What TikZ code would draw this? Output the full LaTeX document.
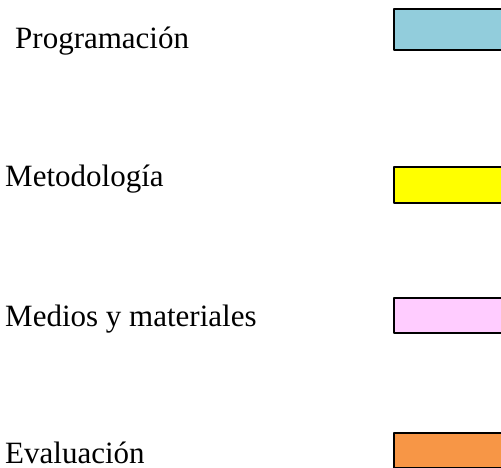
\documentclass[tikz,border=0pt]{standalone}
\usepackage{fontspec}
\setmainfont{Liberation Serif}
\definecolor{progblue}{RGB}{146,205,220}
\definecolor{metyellow}{RGB}{255,255,0}
\definecolor{medpink}{RGB}{255,204,255}
\definecolor{evalorange}{RGB}{247,150,70}
\begin{document}
\begin{tikzpicture}[x=1pt, y=-1pt, font=\fontsize{31}{36}\selectfont, line join=round,
		label/.style={anchor=base west, inner sep=0pt, text depth=0pt},
		colbox/.style={draw=black, line width=1.6pt, anchor=north west, minimum width=130pt, inner sep=0pt}]
			\useasboundingbox (0,0) rectangle (501,468);
			\clip (0,0) rectangle (501,468);
			
			\node[label] (prog) at (15,49) {Programación};
			\node[label] (met) at (5,187) {Metodología};
			\node[label] (med) at (5,326) {Medios y materiales};
			\node[label] (eval) at (5,463) {Evaluación};
			
			\node[colbox, fill=progblue, minimum height=41pt] (bprog) at (393,8) {};
			\node[colbox, fill=metyellow, minimum height=36pt] (bmet) at (393,166) {};
			\node[colbox, fill=medpink, minimum height=35pt] (bmed) at (393,297) {};
			\node[colbox, fill=evalorange, minimum height=35pt] (beval) at (393,432) {};
	\end{tikzpicture}
\end{document}
